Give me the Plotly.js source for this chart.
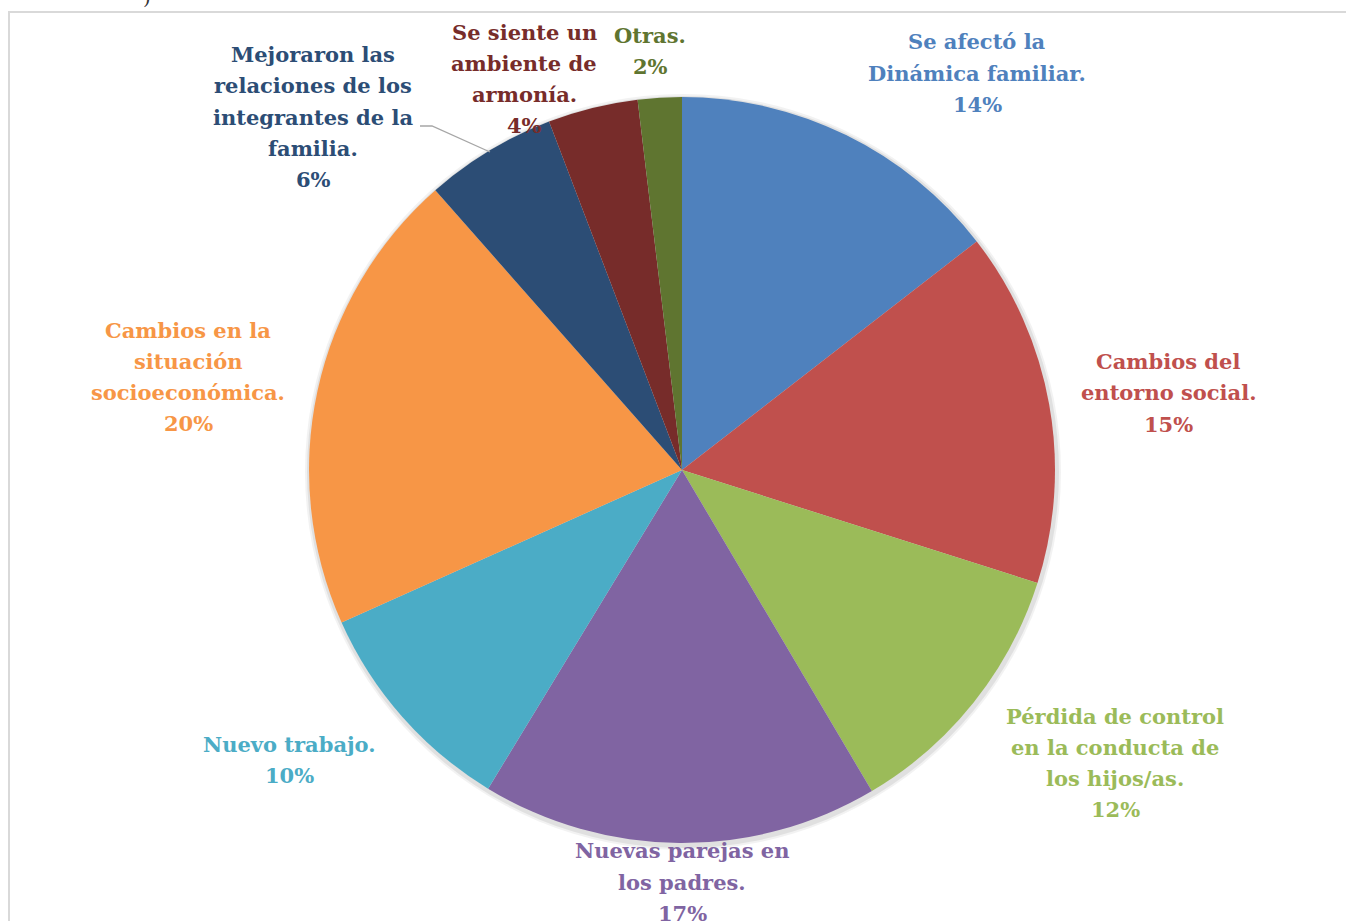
<!DOCTYPE html>
<html>
<head>
<meta charset="utf-8">
<script src="https://cdn.plot.ly/plotly-3.0.1.min.js"></script>
<style>html,body{margin:0;padding:0;background:#fff;}#chart{width:1346px;height:921px;}</style>
</head>
<body>
<div id="chart"></div>
<script>
// ---- data ----
const categories = [
  "Se afectó la Dinámica familiar.",
  "Cambios del entorno social.",
  "Pérdida de control en la conducta de los hijos/as.",
  "Nuevas parejas en los padres.",
  "Nuevo trabajo.",
  "Cambios en la situación socioeconómica.",
  "Mejoraron las relaciones de los integrantes de la familia.",
  "Se siente un ambiente de armonía.",
  "Otras."
];
// slice sizes as drawn
const values = [14.5, 15.4, 11.6, 17.2, 9.6, 20.2, 5.7, 3.9, 1.9];
// percentages as printed in the labels
const percentLabels = ["14%", "15%", "12%", "17%", "10%", "20%", "6%", "4%", "2%"];
const labelLines = [
  ["Se afectó la", "Dinámica familiar."],
  ["Cambios del", "entorno social."],
  ["Pérdida de control", "en la conducta de", "los hijos/as."],
  ["Nuevas parejas en", "los padres."],
  ["Nuevo trabajo."],
  ["Cambios en la", "situación", "socioeconómica."],
  ["Mejoraron las", "relaciones de los", "integrantes de la", "familia."],
  ["Se siente un", "ambiente de", "armonía."],
  ["Otras."]
];

// ---- styles / layout ----
const colors = ["#4F81BD", "#C0504D", "#9BBB59", "#8064A2", "#4BACC6", "#F79646", "#2C4D75", "#772C2A", "#5F7530"];
const W = 1346, H = 921;
const px = x => x / W;
const py = y => 1 - y / H;
const cx = 682, cy = 470, R = 373;
// label block centres (pixels)
const labelCenters = [
  [977, 73], [1168, 393], [1115, 763], [682, 882], [289, 760],
  [188, 377], [313, 117], [524, 79], [650, 51]
];
const lineH = 31.3;
const font = "DejaVu Serif";

const annotations = [];
categories.forEach((c, i) => {
  const lines = labelLines[i].concat([percentLabels[i]]);
  const n = lines.length;
  lines.forEach((t, k) => {
    const y = labelCenters[i][1] + (k - (n - 1) / 2) * lineH;
    annotations.push({
      xref: "paper", yref: "paper",
      x: px(labelCenters[i][0]), y: py(y),
      xanchor: "center", yanchor: "middle",
      text: t, showarrow: false,
      font: {family: font, size: 21, color: colors[i], weight: "bold"}
    });
  });
});
annotations.push({
  xref: "paper", yref: "paper", x: px(147), y: py(-3),
  xanchor: "center", yanchor: "middle", text: ")", showarrow: false,
  font: {family: "DejaVu Serif", size: 20, color: "#333"}
});

const shapes = [
  {type: "rect", xref: "paper", yref: "paper", x0: px(9), y0: py(12), x1: px(1380), y1: py(960),
   line: {color: "#d9d9d9", width: 2}, fillcolor: "rgba(0,0,0,0)", layer: "below"},
  {type: "circle", xref: "paper", yref: "paper", x0: px(cx - R - 4), x1: px(cx + R + 6),
   y0: py(cy + R + 7), y1: py(cy - R - 3), line: {width: 0}, fillcolor: "rgba(0,0,0,0.05)", layer: "below"},
  {type: "circle", xref: "paper", yref: "paper", x0: px(cx - R - 2), x1: px(cx + R + 4),
   y0: py(cy + R + 5), y1: py(cy - R - 1), line: {width: 0}, fillcolor: "rgba(0,0,0,0.07)", layer: "below"},
  {type: "path", xref: "paper", yref: "paper",
   path: "M " + px(420) + " " + py(126) + " L " + px(432) + " " + py(126) + " L " + px(490) + " " + py(152),
   line: {color: "#a6a6a6", width: 1.3}}
];

const trace = {
  type: "pie",
  labels: categories,
  values: values,
  sort: false,
  direction: "clockwise",
  rotation: 0,
  marker: {colors: colors, line: {width: 0}},
  textinfo: "none",
  hoverinfo: "label+percent",
  showlegend: false,
  domain: {x: [px(cx - R), px(cx + R)], y: [py(cy + R), py(cy - R)]}
};

const layout = {
  width: W, height: H,
  margin: {l: 0, r: 0, t: 0, b: 0},
  paper_bgcolor: "#ffffff",
  showlegend: false,
  annotations: annotations,
  shapes: shapes
};

Plotly.newPlot("chart", [trace], layout, {displayModeBar: false, staticPlot: true});
</script>
</body>
</html>
